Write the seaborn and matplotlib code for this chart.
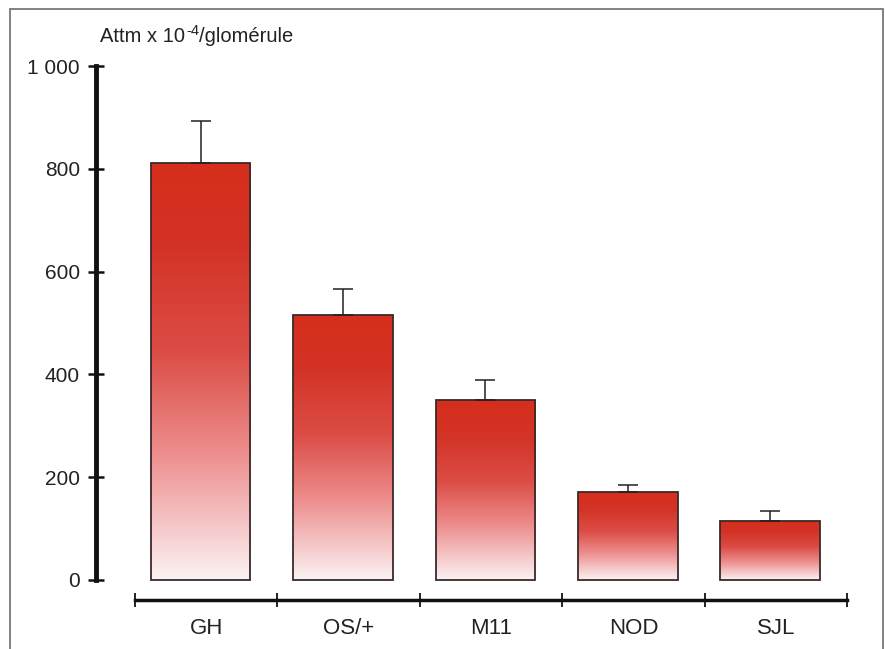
import numpy as np
import pandas as pd
import matplotlib
matplotlib.use("Agg")
import matplotlib.pyplot as plt
import seaborn as sns
from matplotlib.colors import LinearSegmentedColormap
from matplotlib.patches import Rectangle
from matplotlib.transforms import offset_copy

# --- Data ---
strains = ["GH", "OS/+", "M11", "NOD", "SJL"]
means = [811, 515, 350, 172, 115]
upper_err = [82, 52, 39, 12, 19]
y_ticks = [0, 200, 400, 600, 800, 1000]
y_tick_labels = ["0", "200", "400", "600", "800", "1 000"]

df = pd.DataFrame({"strain": strains, "value": means})

sns.set_theme(style="white")
plt.rcParams["font.family"] = ["Liberation Sans", "DejaVu Sans"]

fig = plt.figure(figsize=(8.85, 6.49), dpi=100)
ax = fig.add_axes([0.1085, 0.0755, 0.8487, 0.8228])

sns.barplot(data=df, x="strain", y="value", ax=ax, width=0.7,
            color="white", edgecolor="#3a2a2a", linewidth=1.3, errorbar=None)

# gradient fill: red at top fading to pale pink at bottom
grad = LinearSegmentedColormap.from_list("bar_grad", [
    (0.0, (0.985, 0.950, 0.955)),
    (0.30, (0.930, 0.560, 0.560)),
    (0.55, (0.860, 0.300, 0.270)),
    (0.80, (0.830, 0.200, 0.150)),
    (1.0, (0.840, 0.180, 0.110)),
])
for patch in list(ax.patches):
    x0, y0 = patch.get_x(), patch.get_y()
    w, h = patch.get_width(), patch.get_height()
    patch.set_x(x0 - 0.04)
    x0 = patch.get_x()
    img = ax.imshow(np.linspace(0, 1, 256).reshape(-1, 1), cmap=grad, origin="lower",
                    aspect="auto", extent=[x0, x0 + w, y0, y0 + h], zorder=patch.get_zorder() - 0.1)
    img.set_clip_path(patch)
    patch.set_facecolor("none")

ax.errorbar(np.arange(len(strains)) - 0.04, means, yerr=[[0] * len(strains), upper_err],
            fmt="none", ecolor="#222222", elinewidth=1.1, capsize=7, capthick=1.1, zorder=1)

ax.set_xlim(-0.774, 4.5)
ax.set_ylim(-39, 1000)
ax.set_xlabel("")
ax.set_ylabel("")

sns.despine(ax=ax, top=True, right=True)
ax.spines["left"].set_bounds(0, 1000)
ax.spines["left"].set_linewidth(3.5)
ax.spines["bottom"].set_bounds(-0.5, 4.5)
ax.spines["bottom"].set_linewidth(2.5)
ax.spines["left"].set_color("#111111")
ax.spines["bottom"].set_color("#111111")

ax.set_yticks(y_ticks)
ax.set_yticklabels(y_tick_labels, fontsize=15, color="#222222")
ax.tick_params(axis="y", direction="inout", length=11, width=1.8, color="#111111", pad=6, left=True)

ax.set_xticks(range(len(strains)))
ax.set_xticklabels(strains, fontsize=16, color="#222222")
ax.set_xticks(np.arange(-0.5, 5.0, 1.0), minor=True)
ax.tick_params(axis="x", which="major", length=0, pad=13)
ax.tick_params(axis="x", which="minor", direction="inout", length=10, width=1.3,
               color="#111111", bottom=True)

# y-axis unit label with a hyphen superscript
renderer = fig.canvas.get_renderer()
t1 = fig.text(100 / 885, 1 - 42 / 649, "Attm x 10", fontsize=14.5, color="#222222",
              va="baseline", ha="left")
w1 = t1.get_window_extent(renderer).width
t2 = fig.text(0, 0, "-4", fontsize=10.5, color="#222222", va="baseline", ha="left",
              transform=offset_copy(t1.get_transform(), fig=fig, x=w1 + 1, y=7, units="dots"))
t2.set_position(t1.get_position())
w2 = t2.get_window_extent(renderer).width
t3 = fig.text(0, 0, "/glomérule", fontsize=14.5, color="#222222", va="baseline", ha="left",
              transform=offset_copy(t1.get_transform(), fig=fig, x=w1 + w2 + 1, y=0, units="dots"))
t3.set_position(t1.get_position())

# outer frame
fig.patches.append(Rectangle((10 / 885, -0.05), (883 - 10) / 885, 1.05 - 9 / 649,
                             transform=fig.transFigure, fill=False,
                             edgecolor="#777777", linewidth=1.3))

fig.savefig("out.png", dpi=100)
